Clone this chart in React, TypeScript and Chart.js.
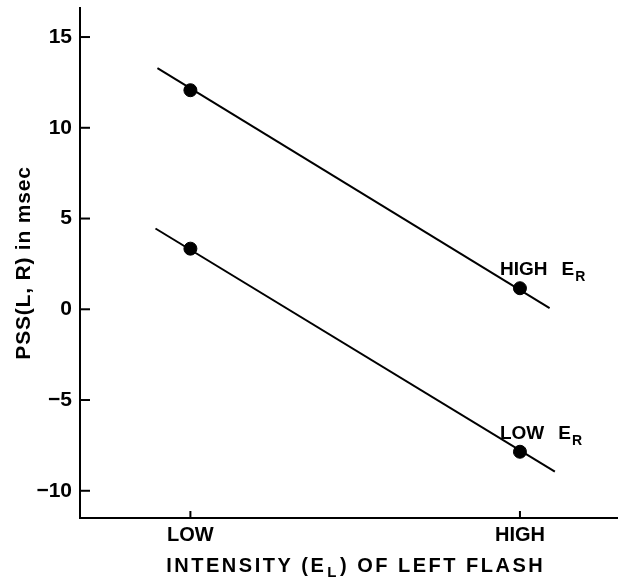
import { useEffect, useRef } from 'react';
import { Chart, registerables } from 'chart.js';
Chart.register(...registerables);

const categories = ['LOW', 'HIGH'];
const categoryX = [0, 1];
const highErValues = [12.07, 1.16];
const lowErValues = [3.34, -7.85];
const highErFitX = [-0.1, 1.09];
const highErFitY = [13.29, 0.06];
const lowErFitX = [-0.106, 1.106];
const lowErFitY = [4.45, -8.95];
const yTicks = [-10, -5, 0, 5, 10, 15];
const seriesNames = ['HIGH', 'LOW'];
const xTitleParts = ['INTENSITY (E', 'L', ') OF LEFT FLASH'];
const yTitle = 'PSS(L, R) in msec';

const FONT = '"Liberation Sans", Arial, sans-serif';

const pts = (xs: number[], ys: number[]) => xs.map((x, i) => ({ x, y: ys[i] }));

const annotPlugin = {
  id: 'annot',
  afterDraw(chart: any) {
    const ctx = chart.ctx;
    const xs = chart.scales.x;
    const ys = chart.scales.y;
    const area = chart.chartArea;
    ctx.save();
    ctx.strokeStyle = '#000';
    ctx.lineWidth = 2;
    // inward ticks
    yTicks.forEach((v) => {
      const py = ys.getPixelForValue(v);
      ctx.beginPath();
      ctx.moveTo(area.left, py);
      ctx.lineTo(area.left + 10, py);
      ctx.stroke();
    });
    categoryX.forEach((v) => {
      const px = xs.getPixelForValue(v);
      ctx.beginPath();
      ctx.moveTo(px, area.bottom);
      ctx.lineTo(px, area.bottom - 7);
      ctx.stroke();
    });
    ctx.fillStyle = '#000';
    // series labels with subscript
    const ends = [highErValues[1], lowErValues[1]];
    ends.forEach((v, i) => {
      const px = xs.getPixelForValue(categoryX[1]);
      const py = ys.getPixelForValue(v);
      let x = px - 20;
      const base = py - 13;
      ctx.textAlign = 'left';
      ctx.textBaseline = 'alphabetic';
      ctx.font = 'bold 19px ' + FONT;
      ctx.fillText(seriesNames[i], x, base);
      x += ctx.measureText(seriesNames[i]).width + 14;
      ctx.fillText('E', x, base);
      x += ctx.measureText('E').width + 1;
      ctx.font = 'bold 14px ' + FONT;
      ctx.fillText('R', x, base + 6);
    });
    // x title
    ctx.letterSpacing = '2.5px';
    ctx.font = 'bold 20px ' + FONT;
    const w0 = ctx.measureText(xTitleParts[0]).width;
    ctx.font = 'bold 15px ' + FONT;
    const w1 = ctx.measureText(xTitleParts[1]).width;
    ctx.font = 'bold 20px ' + FONT;
    const w2 = ctx.measureText(xTitleParts[2]).width;
    const total = w0 + w1 + w2 + 2;
    let tx = (area.left + area.right) / 2 + 7 - total / 2;
    const tb = 572;
    ctx.fillText(xTitleParts[0], tx, tb);
    tx += w0 + 1;
    ctx.font = 'bold 15px ' + FONT;
    ctx.fillText(xTitleParts[1], tx, tb + 5);
    tx += w1 + 1;
    ctx.font = 'bold 20px ' + FONT;
    ctx.fillText(xTitleParts[2], tx, tb);
    ctx.letterSpacing = '0px';
    // y title
    ctx.save();
    ctx.translate(30, (area.top + area.bottom) / 2);
    ctx.rotate(-Math.PI / 2);
    ctx.textAlign = 'center';
    ctx.letterSpacing = '0.8px';
    ctx.font = 'bold 21px ' + FONT;
    ctx.fillText(yTitle, 0, 0);
    ctx.restore();
    ctx.restore();
  },
};

export default function App() {
  const ref = useRef<HTMLCanvasElement>(null);
  useEffect(() => {
    if (!ref.current) return;
    const chart = new Chart(ref.current, {
      type: 'scatter',
      data: {
        datasets: [
          {
            data: pts(highErFitX, highErFitY),
            showLine: true,
            borderColor: '#000',
            borderWidth: 2,
            pointRadius: 0,
          },
          {
            data: pts(lowErFitX, lowErFitY),
            showLine: true,
            borderColor: '#000',
            borderWidth: 2,
            pointRadius: 0,
          },
          {
            data: pts(categoryX, highErValues),
            showLine: false,
            pointRadius: 6.5,
            backgroundColor: '#000',
            borderColor: '#000',
          },
          {
            data: pts(categoryX, lowErValues),
            showLine: false,
            pointRadius: 6.5,
            backgroundColor: '#000',
            borderColor: '#000',
          },
        ],
      },
      options: {
        animation: false,
        responsive: false,
        layout: { padding: { top: 8, right: 5, left: 0, bottom: 0 } },
        plugins: { legend: { display: false }, tooltip: { enabled: false } },
        scales: {
          x: {
            type: 'linear',
            min: -0.335,
            max: 1.296,
            afterBuildTicks: (s: any) => {
              s.ticks = categoryX.map((v) => ({ value: v }));
            },
            afterFit: (s: any) => {
              s.height = 61;
              s.paddingLeft = 0;
              s.paddingRight = 0;
            },
            grid: { display: false, drawTicks: false },
            border: { display: true, color: '#000', width: 2 },
            ticks: {
              padding: 5,
              color: '#000',
              font: { family: FONT, size: 20, weight: 'bold' },
              callback: (v: any) => {
                const i = categoryX.indexOf(Number(v));
                return i >= 0 ? categories[i] : '';
              },
            },
          },
          y: {
            type: 'linear',
            min: -11.5,
            max: 16.6,
            afterBuildTicks: (s: any) => {
              s.ticks = yTicks.map((v) => ({ value: v }));
            },
            afterFit: (s: any) => {
              s.width = 80;
              s.paddingTop = 0;
              s.paddingBottom = 0;
            },
            grid: { display: false, drawTicks: false },
            border: { display: true, color: '#000', width: 2 },
            ticks: {
              padding: 8,
              color: '#000',
              font: { family: FONT, size: 21, weight: 'bold' },
              callback: (v: any) => (Number(v) < 0 ? '\u2212' + Math.abs(Number(v)) : String(v)),
            },
          },
        },
      },
      plugins: [annotPlugin],
    });
    return () => chart.destroy();
  }, []);
  return (
    <div style={{ position: 'fixed', left: 0, top: 0, width: 625, height: 579, background: '#fff' }}>
      <canvas ref={ref} width={625} height={579} style={{ width: 625, height: 579 }} />
    </div>
  );
}
